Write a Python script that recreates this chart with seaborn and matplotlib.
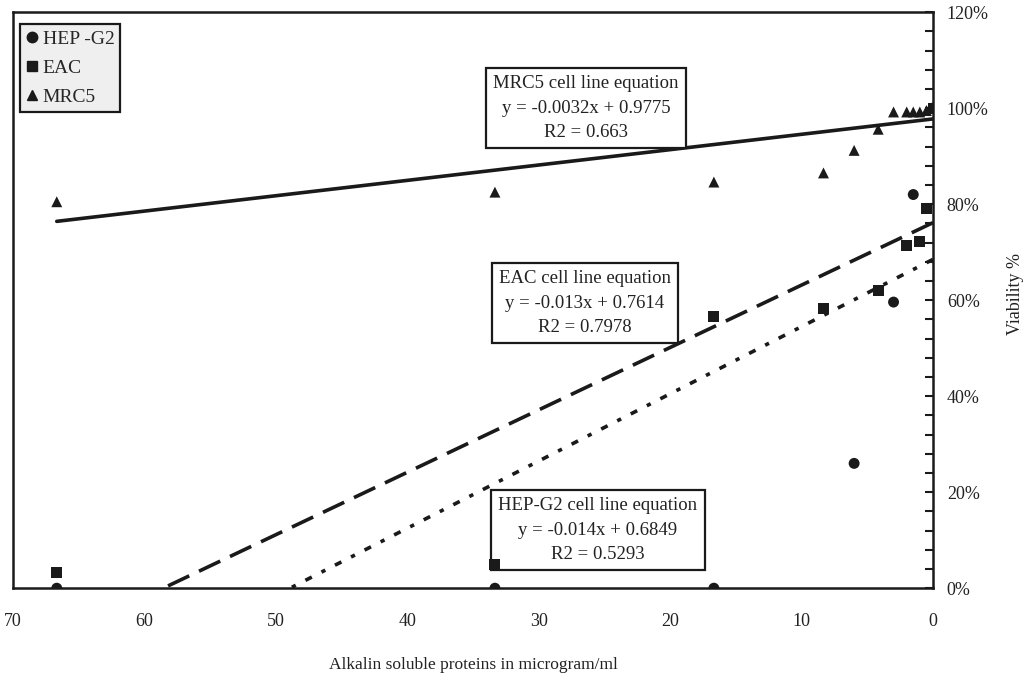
import seaborn as sns
import matplotlib.pyplot as plt
import pandas as pd
from matplotlib.lines import Line2D
from matplotlib.ticker import MultipleLocator, PercentFormatter

# measured viability (fraction) vs alkalin soluble protein (microgram/ml)
hep_conc = [66.67, 33.33, 16.67, 6.0, 3.0, 1.5, 0.0]
hep_via = [0.0, 0.0, 0.0, 0.26, 0.596, 0.82, 1.0]

eac_conc = [66.67, 33.33, 16.67, 8.33, 4.17, 2.0, 1.0, 0.5, 0.0]
eac_via = [0.033, 0.05, 0.565, 0.583, 0.62, 0.713, 0.723, 0.79, 1.0]

mrc_conc = [66.67, 33.33, 16.67, 8.33, 6.0, 4.17, 3.0, 2.0, 1.5, 1.0, 0.5, 0.0]
mrc_via = [0.805, 0.825, 0.846, 0.865, 0.912, 0.956, 0.992, 0.992, 0.992, 0.992, 0.995, 1.0]

cell_lines = ['HEP -G2', 'EAC', 'MRC5']
box_names = ['HEP-G2', 'EAC', 'MRC5']
slopes = [-0.014, -0.013, -0.0032]
intercepts = [0.6849, 0.7614, 0.9775]
r2_values = ['0.5293', '0.7978', '0.663']
trend_range = [0.0, 66.67]

ink = '#1a1a1a'

sns.set_style('white')
plt.rcParams['font.family'] = ['Liberation Serif', 'DejaVu Serif']

df = pd.concat([
    pd.DataFrame({'conc': hep_conc, 'viability': hep_via, 'cell': 'HEP -G2'}),
    pd.DataFrame({'conc': eac_conc, 'viability': eac_via, 'cell': 'EAC'}),
    pd.DataFrame({'conc': mrc_conc, 'viability': mrc_via, 'cell': 'MRC5'}),
])

fig, ax = plt.subplots(figsize=(10.23, 6.73), dpi=100)
fig.subplots_adjust(left=0.0127, right=0.912, top=0.982, bottom=0.126)

marker_map = {'HEP -G2': 'o', 'EAC': 's', 'MRC5': '^'}
sns.scatterplot(data=df, x='conc', y='viability', style='cell', markers=marker_map,
                color=ink, s=62, linewidth=0, legend=False, ax=ax, zorder=5)

# linear trend lines from the printed equations
line_styles = [(0, (2.0, 3.0, 1.2, 3.0)), (0, (6.5, 3.0)), '-']
for name, m, b, ls in zip(cell_lines, slopes, intercepts, line_styles):
    tx = pd.Series(trend_range)
    sns.lineplot(x=tx, y=b + m * tx, ax=ax, color=ink, lw=2.6, linestyle=ls, zorder=2)

# equation boxes
box_pos = [(25.5, 0.121), (26.5, 0.594), (26.4, 1.0)]
for name, m, b, r2, (bx, by) in zip(box_names, slopes, intercepts, r2_values, box_pos):
    txt = f'{name} cell line equation\ny = {m:g}x + {b:g}\nR2 = {r2}'
    ax.text(bx, by, txt, ha='center', va='center', fontsize=13.5, linespacing=1.55,
            color='#222222', zorder=4,
            bbox=dict(boxstyle='square,pad=0.38', facecolor='white', edgecolor=ink, lw=1.6))

ax.set_xlim(70, 0)
ax.set_ylim(0, 1.2)
ax.xaxis.set_major_locator(MultipleLocator(10))
ax.xaxis.set_minor_locator(MultipleLocator(2))
ax.yaxis.set_major_locator(MultipleLocator(0.2))
ax.yaxis.set_minor_locator(MultipleLocator(0.04))
ax.yaxis.set_major_formatter(PercentFormatter(1.0, decimals=0))
ax.yaxis.tick_right()
ax.yaxis.set_label_position('right')

ax.tick_params(axis='both', which='both', direction='in', length=6, width=1.5, colors=ink,
               labelsize=13, labelcolor='#222222')
ax.tick_params(axis='x', which='both', pad=18, top=False)
ax.tick_params(axis='y', which='both', pad=10, left=False)

for sp in ax.spines.values():
    sp.set_color(ink)
    sp.set_linewidth(1.8)

ax.set_xlabel('Alkalin soluble proteins in microgram/ml', fontsize=12.5, color='#222222', labelpad=19)
ax.set_ylabel('Viability %', fontsize=13, color='#222222', rotation=90)
ax.yaxis.set_label_coords(1.081, 0.51)

handles = [Line2D([], [], marker=marker_map[c], color=ink, linestyle='none', markersize=7.5)
           for c in cell_lines]
leg = ax.legend(handles, cell_lines, loc='upper left', bbox_to_anchor=(0.008, 0.979),
                borderaxespad=0, fontsize=14, frameon=True, fancybox=False,
                handletextpad=0.25, handlelength=0.6, labelspacing=0.6, borderpad=0.3)
leg.get_frame().set_edgecolor(ink)
leg.get_frame().set_linewidth(1.6)
leg.get_frame().set_facecolor('#efefef')
leg.get_frame().set_alpha(1)

plt.savefig('out.png', dpi=100)
plt.close()
